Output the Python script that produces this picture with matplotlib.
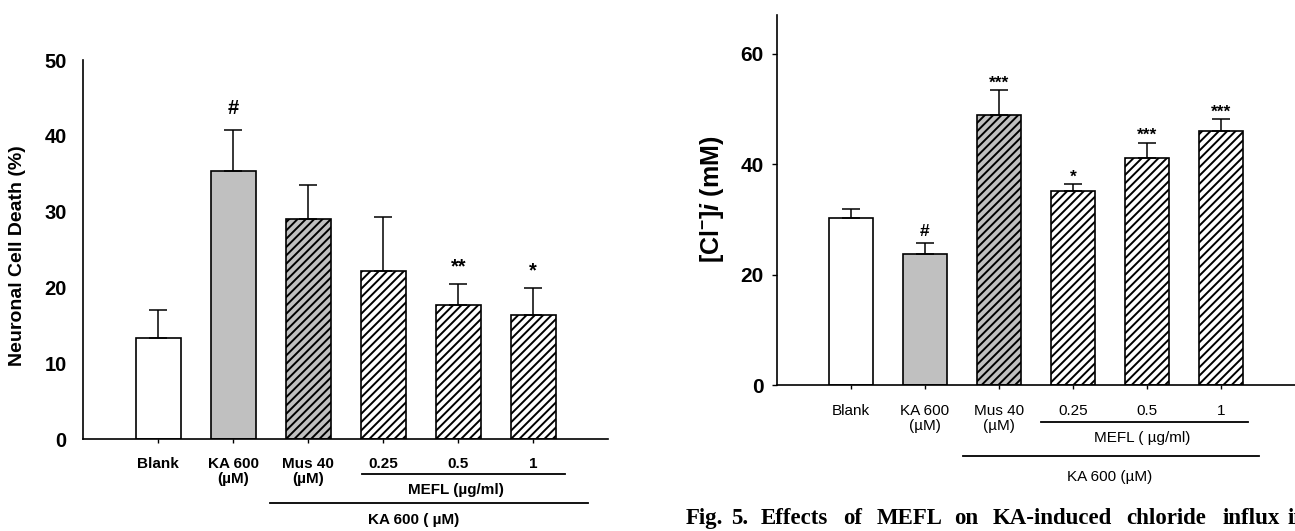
import matplotlib
matplotlib.use("Agg")
import matplotlib.pyplot as plt
import matplotlib.transforms as mtransforms
import numpy as np
from matplotlib import font_manager

# ---- data ----
cats_left = ["Blank", "KA 600\n(µM)", "Mus 40\n(µM)", "0.25", "0.5", "1"]
death_mean = [13.3, 35.4, 29.0, 22.2, 17.7, 16.4]
death_err = [3.8, 5.4, 4.5, 7.1, 2.8, 3.6]
death_marks = ["", "#", "", "", "**", "*"]

cats_right = ["Blank", "KA 600\n(µM)", "Mus 40\n(µM)", "0.25", "0.5", "1"]
chloride_mean = [30.3, 23.8, 48.9, 35.1, 41.2, 46.0]
chloride_err = [1.6, 1.9, 4.5, 1.3, 2.7, 2.1]
chloride_marks = ["", "#", "***", "*", "***", "***"]

fills = ["white", "#c0c0c0", "#c0c0c0", "white", "white", "white"]
hatches = ["", "", "////", "////", "////", "////"]

caption_words = ["Fig.", "5.", "Effects", "of", "MEFL", "on", "KA-induced", "chloride", "influx", "in"]
caption_x = [686, 731, 761, 843, 877, 954, 993, 1126, 1223, 1288]

names = {f.name for f in font_manager.fontManager.ttflist}
narrow = "Liberation Sans Narrow" if "Liberation Sans Narrow" in names else "Liberation Sans"

plt.rcParams["font.family"] = ["Liberation Sans", "DejaVu Sans"]
plt.rcParams["mathtext.fontset"] = "custom"
plt.rcParams["mathtext.rm"] = "Liberation Sans:bold"
plt.rcParams["mathtext.bf"] = "Liberation Sans:bold"
plt.rcParams["mathtext.it"] = "Liberation Sans:italic:bold"
plt.rcParams["hatch.linewidth"] = 1.4

W, H = 1295, 531
fig = plt.figure(figsize=(W / 100, H / 100), dpi=100)
axL = fig.add_axes([0.0643, 0.1727, 0.4054, 0.7143])
axR = fig.add_axes([0.5998, 0.2749, 0.4002, 0.6968])


def draw_bars(ax, mean, err, marks, fs, base_off, center_frac):
    x = np.arange(len(mean))
    bars = ax.bar(x, mean, width=0.6, color=fills, edgecolor="black", linewidth=1.2, zorder=2)
    for b, h in zip(bars, hatches):
        b.set_hatch(h)
    ax.errorbar(x, mean, yerr=[np.zeros(len(err)), err], fmt="none", ecolor="black",
                elinewidth=1.1, capsize=6.5, capthick=1.1, zorder=3)
    for xi, m, e, mk in zip(x, mean, err, marks):
        if not mk:
            continue
        cf = center_frac["#"] if "#" in mk else center_frac["*"]
        ax.annotate(mk, xy=(xi, m + e), xytext=(0, base_off - cf * fs), textcoords="offset points",
                    ha="center", va="baseline", fontsize=fs, fontweight="bold", annotation_clip=False)
    for s in ["top", "right"]:
        ax.spines[s].set_visible(False)
    for s in ["left", "bottom"]:
        ax.spines[s].set_linewidth(1.2)
    ax.set_xlim(-1, 6)
    return x


centers = {"#": 0.35, "*": 0.58}

# ---- left panel: neuronal cell death ----
xl = draw_bars(axL, death_mean, death_err, death_marks, 14.5, 16.5, centers)
axL.set_ylim(0, 50)
axL.set_yticks(np.arange(0, 51, 10))
axL.tick_params(axis="y", length=0, pad=12, labelsize=14.5)
for t in axL.get_yticklabels():
    t.set_fontweight("bold")
axL.set_xticks(xl)
axL.set_xticklabels(cats_left, fontsize=11, fontweight="bold", linespacing=1.05)
axL.tick_params(axis="x", length=3, width=1, pad=10)

tL = mtransforms.blended_transform_factory(axL.transData, axL.transAxes)
axL.plot([2.71, 5.42], [-0.0915, -0.0915], transform=tL, clip_on=False, color="black", lw=1.3)
axL.plot([1.49, 5.73], [-0.169, -0.169], transform=tL, clip_on=False, color="black", lw=1.3)
axL.text(3.97, -0.134, "MEFL (µg/ml)", transform=tL, ha="center", va="center",
         fontsize=11, fontweight="bold")
axL.text(3.40, -0.213, "KA 600 ( µM)", transform=tL, ha="center", va="center",
         fontsize=11, fontweight="bold")
fig.text(17.5 / W, 1 - 256 / H, "Neuronal Cell Death (%)", rotation=90, ha="center", va="center",
         fontsize=14, fontweight="bold")

# ---- right panel: intracellular chloride ----
xr = draw_bars(axR, chloride_mean, chloride_err, chloride_marks, 12.5, 9.2, centers)
axR.set_ylim(0, 67)
axR.set_yticks([0, 20, 40, 60])
axR.tick_params(axis="y", length=3.5, width=1, pad=6)
for t in axR.get_yticklabels():
    t.set_fontfamily(narrow)
    t.set_fontweight("bold")
    t.set_fontsize(15)
axR.set_xticks(xr)
axR.set_xticklabels(cats_right, fontsize=11, linespacing=1.05)
axR.tick_params(axis="x", length=3, width=1, pad=11)

tR = mtransforms.blended_transform_factory(axR.transData, axR.transAxes)
axR.plot([2.57, 5.36], [-0.1008, -0.1008], transform=tR, clip_on=False, color="black", lw=1.3)
axR.plot([1.51, 5.52], [-0.192, -0.192], transform=tR, clip_on=False, color="black", lw=1.3)
axR.text(3.94, -0.144, "MEFL ( µg/ml)", transform=tR, ha="center", va="center", fontsize=11)
axR.text(3.49, -0.249, "KA 600 (µM)", transform=tR, ha="center", va="center", fontsize=11)
fig.text(711.5 / W, 1 - 199 / H, r"[Cl$^{-}$]$\mathit{i}$ (mM)", rotation=90, ha="center",
         va="center", fontsize=18, fontweight="bold")

# ---- caption fragment (cut at the right edge, as in the source) ----
for wd, xp in zip(caption_words, caption_x):
    fig.text(xp / W, 1 - 524 / H, wd, ha="left", va="baseline", fontsize=16.5, fontweight="bold",
             family=["Liberation Serif", "DejaVu Serif"])

fig.savefig("out.png", dpi=100)
